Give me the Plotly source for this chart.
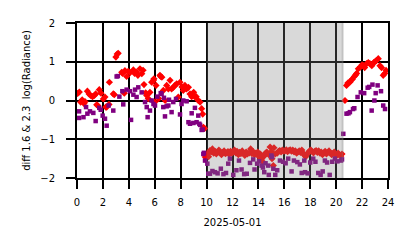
import plotly.graph_objects as go

# Red series (diff 1.6)
red_h = [0.05, 0.18, 0.28, 0.40, 0.54, 0.62, 0.80, 0.93, 1.05, 1.20, 1.34, 1.44, 1.52, 1.60, 1.72, 1.85,
         2.03, 2.16, 2.22, 2.29, 2.47, 2.50, 2.80, 2.88, 3.00, 3.10, 3.18, 3.45, 3.52, 3.65, 3.70, 3.83,
         3.95, 4.10, 4.35, 4.45, 4.60, 4.70, 4.86, 5.00, 5.10, 5.17, 5.30, 5.38, 5.50, 5.63, 5.76, 5.90,
         5.94, 6.00, 6.10, 6.30, 6.40, 6.46, 6.55, 6.66, 6.80, 6.92, 7.05, 7.18, 7.30, 7.43, 7.56, 7.69,
         7.82, 7.95, 8.10, 8.20, 8.33, 8.45, 8.60, 8.72, 8.85, 9.00, 9.10, 9.20, 9.36, 9.50, 9.62, 9.70,
         9.75, 9.85, 9.90,
         10.05, 10.15, 10.26, 10.35, 10.45, 10.55, 10.65, 10.75, 10.85, 10.95, 11.05, 11.15, 11.25, 11.35,
         11.45, 11.55, 11.65, 11.75, 11.85, 11.95, 12.05, 12.15, 12.25, 12.35, 12.45, 12.55, 12.65, 12.75,
         12.85, 12.95, 13.05, 13.15, 13.30, 13.40, 13.50, 13.60, 13.70, 13.80, 13.95, 14.05, 14.15, 14.25,
         14.35, 14.45, 14.55, 14.65, 14.80, 14.90, 15.00, 15.05, 15.15, 15.20, 15.30, 15.45, 15.55, 15.65,
         15.75, 15.85, 15.95, 16.05, 16.15, 16.25, 16.35, 16.45, 16.55, 16.65, 16.75, 16.85, 16.95, 17.05,
         17.15, 17.25, 17.35, 17.45, 17.55, 17.65, 17.75, 17.85, 17.95, 18.05, 18.15, 18.25, 18.35, 18.45,
         18.55, 18.65, 18.75, 18.85, 18.95, 19.05, 19.15, 19.25, 19.35, 19.45, 19.55, 19.65, 19.75, 19.85,
         19.95, 20.05, 20.15, 20.25, 20.35, 20.45,
         20.68, 20.80, 20.90, 21.06, 21.15, 21.25, 21.40, 21.50, 21.58, 21.71, 21.85, 22.00, 22.10, 22.20,
         22.35, 22.48, 22.60, 22.75, 22.90, 23.00, 23.10, 23.25, 23.38, 23.50, 23.63, 23.75, 23.85]
red_v = [0.18, 0.22, -0.04, 0.02, -0.08, -0.03, 0.24, 0.17, 0.13, 0.10, 0.13, 0.17, -0.11, -0.13, 0.28, 0.19,
         0.04, 0.09, -0.17, -0.17, -0.10, 0.47, 0.17, 0.15, 1.12, 1.20, 1.22, 0.73, 0.70, 0.19, 0.77, 0.62,
         0.75, 0.72, 0.79, 0.70, 0.73, 0.65, 0.82, 0.69, 0.78, 0.41, 0.20, 0.13, 0.05, 0.21, 0.47, 0.52,
         0.56, -0.04, 0.39, 0.05, 0.65, 0.62, 0.60, 0.26, 0.00, 0.39, 0.30, 0.52, 0.30, 0.34, 0.39, 0.43,
         0.09, 0.47, 0.35, 0.26, 0.39, 0.30, 0.34, 0.17, 0.10, 0.21, 0.09, 0.10, 0.00, -0.04, -0.21, -0.35,
         -0.69, -0.72, -1.46,
         -1.38, -1.45, -1.29, -1.33, -1.25, -1.36, -1.31, -1.38, -1.33, -1.28, -1.35, -1.40, -1.34, -1.30,
         -1.37, -1.35, -1.32, -1.39, -1.31, -1.36, -1.33, -1.28, -1.35, -1.31, -1.40, -1.34, -1.37, -1.30,
         -1.36, -1.42, -1.33, -1.38, -1.35, -1.25, -1.37, -1.32, -1.40, -1.36, -1.33, -1.45, -1.38, -1.50,
         -1.59, -1.43, -1.36, -1.33, -1.40, -1.20, -1.32, -1.50, -1.68, -1.22, -1.38, -1.36, -1.31, -1.29,
         -1.33, -1.28, -1.31, -1.30, -1.27, -1.32, -1.29, -1.27, -1.31, -1.28, -1.33, -1.30, -1.36, -1.33,
         -1.30, -1.34, -1.28, -1.36, -1.41, -1.45, -1.39, -1.34, -1.30, -1.28, -1.32, -1.35, -1.31, -1.29,
         -1.34, -1.30, -1.36, -1.33, -1.40, -1.35, -1.31, -1.38, -1.34, -1.30, -1.36, -1.40, -1.37, -1.33,
         -1.39, -1.42, -1.36, -1.40, -1.44, -1.38,
         0.00, 0.39, 0.45, 0.47, 0.52, 0.55, 0.62, 0.66, 0.70, 0.82, 0.86, 0.92, 0.90, 0.85,
         0.95, 0.98, 0.95, 0.90, 0.98, 1.00, 1.03, 1.08, 0.90, 0.85, 0.65, 0.70, 0.78]

# Purple series (diff 2.3)
pur_h = [0.16, 0.16, 0.50, 0.70, 0.80, 1.00, 1.26, 1.44, 1.72, 1.83, 1.98, 2.16, 2.29, 2.44, 2.80, 3.06,
         3.15, 3.27, 3.50, 3.57, 3.83, 4.09, 4.17, 4.35, 4.48, 4.60, 4.73, 4.99, 5.25, 5.38, 5.45, 5.63,
         5.76, 5.90, 6.02, 6.20, 6.46, 6.53, 6.66, 6.71, 6.79, 6.92, 7.05, 7.10, 7.30, 7.43, 7.64, 7.95,
         8.07, 8.20, 8.46, 8.60, 8.72, 8.85, 8.98, 9.10, 9.23, 9.36, 9.44, 9.50, 9.62, 9.70, 9.75, 9.80, 9.88,
         10.06, 10.13, 10.26, 10.45, 10.65, 10.85, 11.10, 11.30, 11.50, 11.67, 11.80, 12.06, 12.30, 12.50,
         12.70, 12.90, 13.10, 13.35, 13.60, 13.70, 13.90, 14.05, 14.25, 14.35, 14.45, 14.55, 14.76, 14.80,
         15.00, 15.05, 15.15, 15.30, 15.45, 15.66, 15.90, 16.10, 16.30, 16.56, 16.74, 17.00, 17.20, 17.34,
         17.54, 17.60, 17.80, 18.00, 18.23, 18.40, 18.62, 18.80, 18.96, 19.13, 19.30, 19.50, 19.70, 19.90,
         20.10, 20.37, 20.45,
         20.55, 20.80, 20.95, 21.06, 21.30, 21.40, 21.65, 21.90, 22.16, 22.43, 22.55, 22.74, 22.80, 22.95,
         23.05, 23.20, 23.46, 23.63, 23.77]
pur_v = [-0.28, -0.45, -0.43, -0.17, -0.34, -0.28, -0.32, -0.53, -0.19, -0.24, -0.39, -0.47, -0.65, -0.13, -0.26, 0.62,
         0.63, 0.10, 0.24, -0.10, 0.28, 0.24, -0.50, 0.15, 0.28, 0.09, 0.34, 0.21, -0.04, -0.17, -0.43, -0.26,
         0.00, -0.09, -0.13, 0.10, 0.19, 0.17, -0.17, 0.07, -0.41, -0.15, -0.13, 0.02, -0.30, -0.04, 0.04, -0.36,
         -0.09, 0.00, -0.02, -0.56, -0.60, -0.33, -0.58, -0.19, -0.56, -0.39, -0.60, -0.63, -0.76, -0.75, -1.38, -1.35, -1.55,
         -1.63, -1.89, -1.89, -1.82, -1.85, -1.88, -1.76, -1.90, -1.87, -1.63, -1.50, -1.92, -1.80, -1.55,
         -1.78, -1.90, -1.89, -1.61, -1.52, -1.78, -1.63, -1.57, -1.68, -1.73, -1.85, -1.62, -1.68, -1.92,
         -1.42, -1.46, -1.76, -1.92, -1.80, -1.55, -1.58, -1.62, -1.50, -1.83, -1.55, -1.59, -1.65, -1.87,
         -1.55, -1.85, -1.88, -1.60, -1.50, -1.58, -1.87, -1.92, -1.83, -1.55, -1.60, -1.92, -1.58, -1.50,
         -1.57, -1.55, -1.52,
         -0.86, -0.34, -0.33, -0.30, -0.22, -0.20, 0.09, 0.21, 0.19, 0.33, 0.35, -0.26, 0.41, 0.00,
         0.19, 0.39, 0.24, -0.13, -0.22]

night_start = 10.0
night_end = 20.56
x_ticks = list(range(0, 25, 2))
y_ticks = [-2, -1, 0, 1, 2]

fig = go.Figure()
fig.add_trace(go.Scatter(x=red_h, y=red_v, mode="markers",
                         marker=dict(symbol="diamond", size=5.5, color="#ff0000", line=dict(width=0)),
                         showlegend=False))
fig.add_trace(go.Scatter(x=pur_h, y=pur_v, mode="markers",
                         marker=dict(symbol="square", size=4.5, color="#800080", line=dict(width=0)),
                         showlegend=False))

fig.add_shape(type="rect", xref="x", yref="paper", x0=night_start, x1=night_end, y0=0, y1=1,
              fillcolor="rgba(128,128,128,0.3)", line=dict(width=0), layer="above")
fig.add_shape(type="rect", xref="x", yref="paper", x0=night_end - 0.14, x1=night_end, y0=0, y1=1,
              fillcolor="rgba(128,128,128,0.25)", line=dict(width=0), layer="above")

axis_common = dict(showgrid=True, gridcolor="black", gridwidth=2, zeroline=False,
                   showline=True, linecolor="black", linewidth=2, mirror=True,
                   ticks="outside", ticklen=9, tickwidth=2, tickcolor="black",
                   tickfont=dict(family="DejaVu Sans", size=10, color="black"))

fig.update_xaxes(range=[0, 24], tickvals=x_ticks, ticktext=[str(t) for t in x_ticks],
                 ticklabelstandoff=5,
                 title=dict(text="2025-05-01", font=dict(family="DejaVu Sans", size=10, color="black"),
                            standoff=12),
                 **axis_common)
fig.update_yaxes(range=[-2, 2], tickvals=y_ticks, ticklabelstandoff=9,
                 title=dict(text="diff 1.6 & 2.3  log(Radiance)",
                            font=dict(family="DejaVu Sans", size=10, color="black"), standoff=8),
                 **axis_common)

fig.update_layout(width=414, height=248, margin=dict(l=77, r=26, t=23, b=70),
                  paper_bgcolor="white", plot_bgcolor="white",
                  font=dict(family="DejaVu Sans", size=10, color="black"))

fig.write_html("out.html")
